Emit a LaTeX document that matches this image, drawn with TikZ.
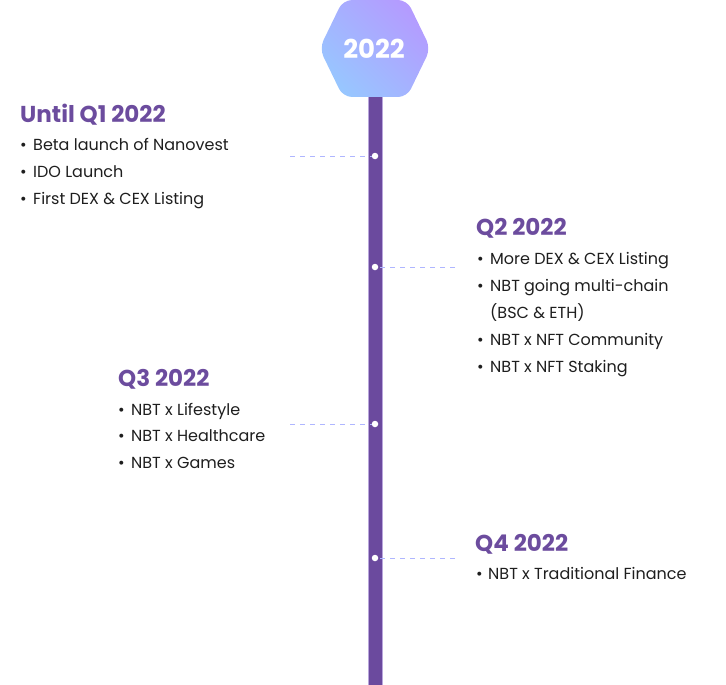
\documentclass[tikz,border=0pt]{standalone}
\usepackage{fontspec}
\setmainfont{Poppins}
\usetikzlibrary{positioning}
\definecolor{barcol}{HTML}{6B4A9E}
\definecolor{baredge}{HTML}{B9A6DC}
\definecolor{headcol}{HTML}{6C4C9E}
\definecolor{itemcol}{HTML}{1E1E1E}
\definecolor{hexblue}{HTML}{98C6FF}
\definecolor{hexpurple}{HTML}{B49BFF}
\definecolor{linkcol}{HTML}{AFB6FF}
\tikzset{
  head/.style  = {anchor=base west, inner sep=0pt, text=headcol,
                  font=\fontsize{23}{27}\selectfont\bfseries},
  item/.style  = {anchor=base west, inner sep=0pt, text=itemcol,
                  font=\fontsize{16}{20}\selectfont},
  pin/.style   = {circle, fill=white, inner sep=0pt, minimum size=6.5pt},
  link/.style  = {linkcol, line width=0.9pt, dash pattern=on 5pt off 5pt},
}
\newcommand\bul[1]{\makebox[#1][l]{\textbullet}}
\newcommand\nobul[1]{\makebox[#1][l]{}}

\begin{document}
\begin{tikzpicture}[x=1pt, y=-1pt]
\useasboundingbox (0,0) rectangle (726,685);

% ── Spine and year badge ─────────────────────────────────────
\fill[barcol] (367.5,90) rectangle (382.5,685);
\draw[baredge, line width=0.6pt] (367.8,90) -- (367.8,685);
\draw[baredge, line width=0.6pt] (382.2,90) -- (382.2,685);
\shade[rounded corners=9pt, left color=hexpurple, right color=hexblue,
       shading angle=-45]
  (343,0) -- (407,0) -- (430.5,48.5) -- (407,97) -- (343,97) -- (319.5,48.5) -- cycle;
\node[text=white, font=\fontsize{26}{30}\selectfont\bfseries] (year) at (374,48.5) {2022};

% ── Milestone pins and dashed links ──────────────────────────
\foreach \i/\yy/\xe in {1/156/290, 2/267/455, 3/424/290, 4/558/455}{
  \node[pin] (m\i) at (375,\yy) {};
  \coordinate (e\i) at (\xe,\yy);
  \draw[link] (e\i) -- (m\i);
}

% ── Until Q1 2022 (left) ─────────────────────────────────────
\node[head] (q1) at (20,122) {Until Q1 2022};
\foreach \k/\yy/\txt in {1/150/{Beta launch of Nanovest}, 2/177/{IDO Launch},
    3/204/{First DEX \& CEX Listing}}{
  \node[item] (q1-\k) at (20,\yy) {\bul{13pt}\txt};
}

% ── Q2 2022 (right) ──────────────────────────────────────────
\node[head] (q2) at (476,235) {Q2 2022};
\foreach \k/\yy/\txt in {1/264/{More DEX \& CEX Listing}, 2/291/{NBT going multi-chain},
    4/345/{NBT x NFT Community}, 5/372/{NBT x NFT Staking}}{
  \node[item] (q2-\k) at (477,\yy) {\bul{13pt}\txt};
}
\node[item] (q2-3) at (477,318) {\nobul{13pt}(BSC \& ETH)};

% ── Q3 2022 (left) ───────────────────────────────────────────
\node[head] (q3) at (118,386) {Q3 2022};
\foreach \k/\yy/\txt in {1/415/{NBT x Lifestyle}, 2/441/{NBT x Healthcare},
    3/468/{NBT x Games}}{
  \node[item] (q3-\k) at (118,\yy) {\bul{13pt}\txt};
}

% ── Q4 2022 (right) ──────────────────────────────────────────
\node[head] (q4) at (475,551) {Q4 2022};
\node[item] (q4-1) at (476,579) {\bul{12pt}NBT x Traditional Finance};

\end{tikzpicture}
\end{document}
